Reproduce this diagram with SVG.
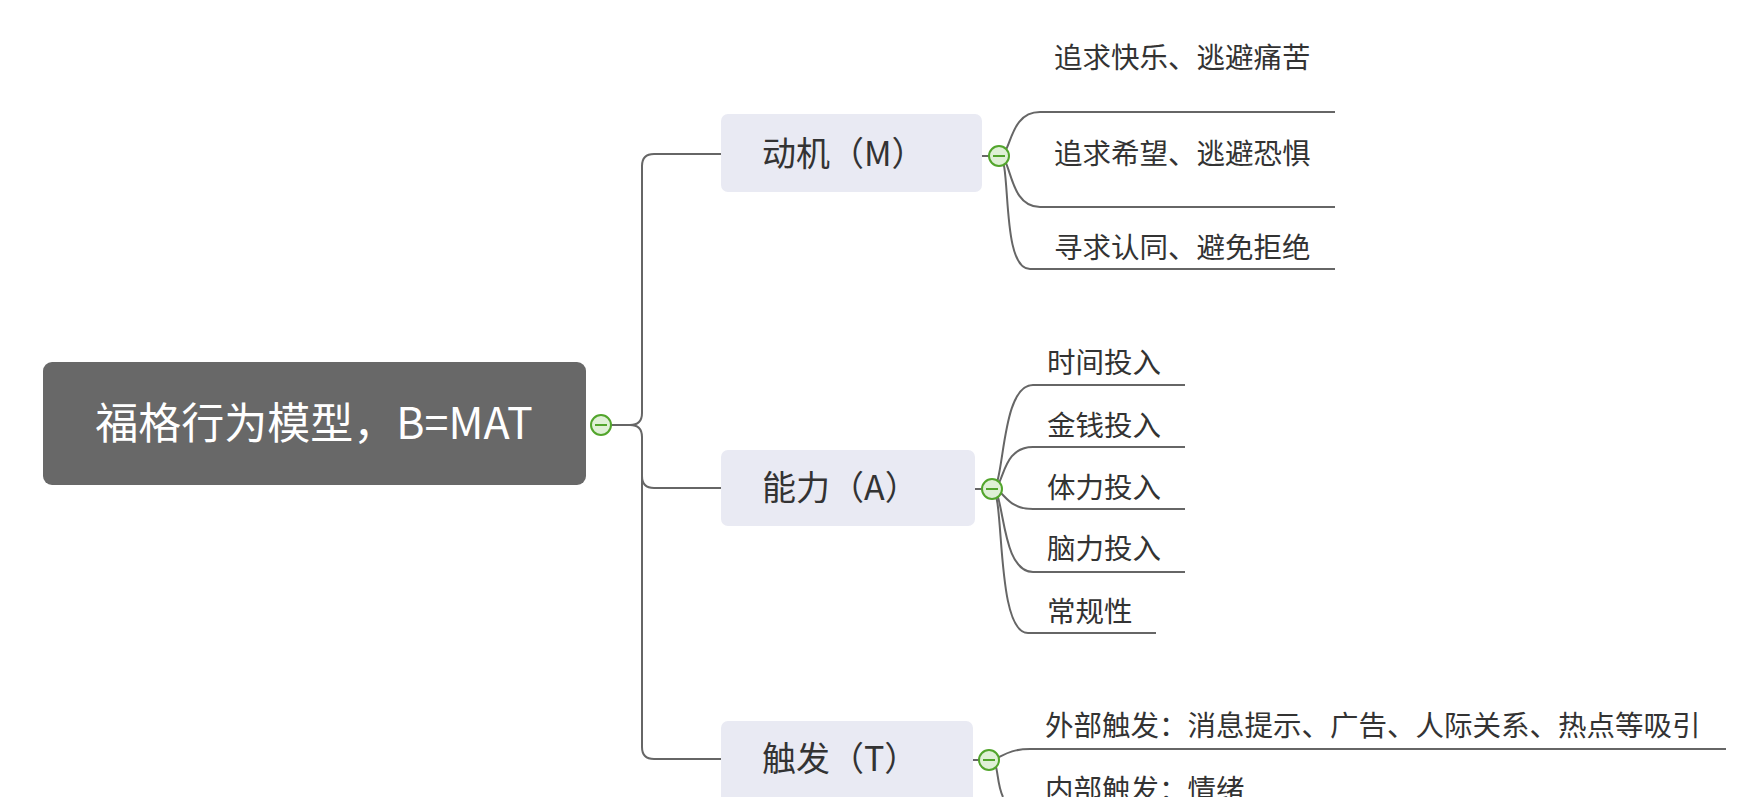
<svg xmlns="http://www.w3.org/2000/svg" width="1758" height="797" viewBox="0 0 1758 797">
<style>
text{font-family:"Noto Sans CJK SC","Noto Sans",sans-serif;fill:#333}
.c{fill:none;stroke:#666;stroke-width:2}
.br{fill:#e9eaf3}
.bt{font-size:34px}
.lt{font-size:28.5px}
.tg{fill:#dff0d6;stroke:#52a52c;stroke-width:2}
.tm{stroke:#52a52c;stroke-width:2}
</style>
<rect width="1758" height="797" fill="#fff"/>
<g id="connectors">
<path class="c" d="M611,425 H630 Q642,425 642,413 V166 Q642,154 654,154 H721"/>
<path class="c" d="M630,425 Q642,425 642,437 V476 Q642,488 654,488 H721"/>
<path class="c" d="M642,476 V747 Q642,759 654,759 H721"/>
<path class="c" d="M982,156 H999 C1012,156 1008,112 1040,112 H1335"/>
<path class="c" d="M999,156 C1012,156 1008,207 1040,207 H1335"/>
<path class="c" d="M999,156 C1012,156 1000,269 1030,269 H1335"/>
<path class="c" d="M975,489 H992 C1005,489 1000,385 1033,385 H1185"/>
<path class="c" d="M992,489 C1005,489 1000,447 1033,447 H1185"/>
<path class="c" d="M992,489 C1005,489 1005,509 1033,509 H1185"/>
<path class="c" d="M992,489 C1005,489 1000,572 1033,572 H1185"/>
<path class="c" d="M992,489 C1005,489 995,633 1028,633 H1156"/>
<path class="c" d="M973,760 H989 C1000,760 1005,749 1030,749 H1726"/>
<path class="c" d="M989,760 C1000,760 995,780 1003,797"/>
</g>
<g id="root">
<rect x="43" y="362" width="543" height="123" rx="9" fill="#686868"/>
<text x="314" y="439" font-size="43" text-anchor="middle" style="fill:#fff">福格行为模型，B=MAT</text>
<circle class="tg" cx="601" cy="425" r="10"/><line class="tm" x1="595" y1="425" x2="607" y2="425"/>
</g>
<g id="m">
<rect class="br" x="721" y="114" width="261" height="78" rx="7"/>
<text class="bt" x="762" y="166">动机（M）</text>
<circle class="tg" cx="999" cy="156" r="10"/><line class="tm" x1="993" y1="156" x2="1005" y2="156"/>
</g>
<g id="m1"><text class="lt" x="1054" y="68">追求快乐、逃避痛苦</text></g>
<g id="m2"><text class="lt" x="1054" y="164">追求希望、逃避恐惧</text></g>
<g id="m3"><text class="lt" x="1054" y="258">寻求认同、避免拒绝</text></g>
<g id="a">
<rect class="br" x="721" y="450" width="254" height="76" rx="7"/>
<text class="bt" x="762" y="500">能力（A）</text>
<circle class="tg" cx="992" cy="489" r="10"/><line class="tm" x1="986" y1="489" x2="998" y2="489"/>
</g>
<g id="a1"><text class="lt" x="1047" y="373">时间投入</text></g>
<g id="a2"><text class="lt" x="1047" y="436">金钱投入</text></g>
<g id="a3"><text class="lt" x="1047" y="498">体力投入</text></g>
<g id="a4"><text class="lt" x="1047" y="559">脑力投入</text></g>
<g id="a5"><text class="lt" x="1047" y="622">常规性</text></g>
<g id="t">
<rect class="br" x="721" y="721" width="252" height="90" rx="7"/>
<text class="bt" x="762" y="771">触发（T）</text>
<circle class="tg" cx="989" cy="760" r="10"/><line class="tm" x1="983" y1="760" x2="995" y2="760"/>
</g>
<g id="t1"><text class="lt" x="1045" y="736">外部触发：消息提示、广告、人际关系、热点等吸引</text></g>
<g id="t2"><text class="lt" x="1045" y="800">内部触发：情绪</text></g>
</svg>
